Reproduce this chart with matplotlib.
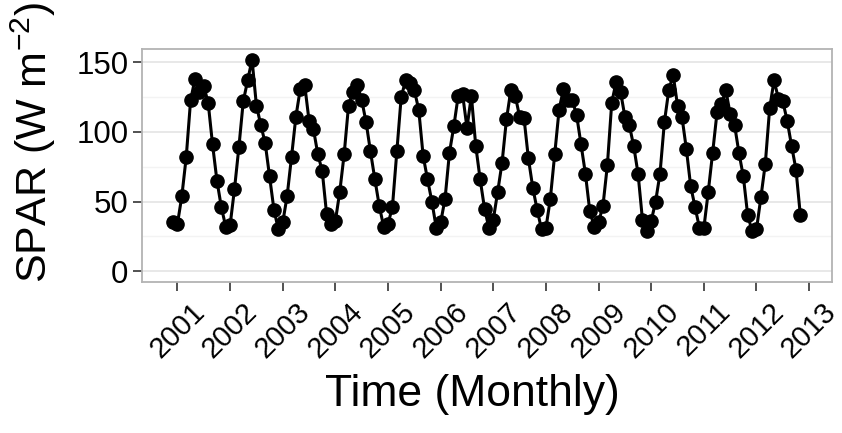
import numpy as np
import matplotlib
matplotlib.use("Agg")
import matplotlib.pyplot as plt
from matplotlib.ticker import MultipleLocator

plt.rcParams['font.family'] = ['Liberation Sans', 'DejaVu Sans']
plt.rcParams['mathtext.default'] = 'regular'

# monthly SPAR, Dec 2000 .. Nov 2012 (W m^-2)
spar = [
    35, 34, 54, 82, 123, 138, 129, 133, 121, 91, 65, 46,
    32, 33, 59, 89, 122, 137, 152, 119, 105, 92, 68, 44,
    30, 35, 54, 82, 111, 131, 134, 108, 102, 84, 72, 41,
    34, 36, 57, 84, 119, 129, 134, 123, 107, 86, 66, 47,
    32, 34, 46, 86, 125, 137, 135, 130, 116, 83, 66, 50,
    31, 35, 52, 85, 104, 126, 127, 103, 126, 90, 66, 45,
    31, 37, 57, 78, 109, 130, 126, 111, 110, 81, 60, 44,
    30, 31, 52, 84, 116, 131, 123, 123, 112, 91, 70, 43,
    32, 35, 47, 76, 121, 136, 129, 111, 105, 90, 70, 37,
    29, 36, 50, 70, 107, 130, 141, 119, 111, 88, 61, 46,
    31, 31, 57, 85, 114, 120, 130, 113, 105, 85, 68, 40,
    29, 30, 53, 77, 117, 137, 124, 122, 108, 90, 73, 40,
]
start_year = 2000 + 11 / 12
years = list(range(2001, 2014))

t = start_year + np.arange(len(spar)) / 12

fig = plt.figure(figsize=(8.42, 4.33), dpi=100)
ax = fig.add_axes([0.1683, 0.3494, 0.8195, 0.5374])

ax.plot(t, spar, color='black', lw=2.2, marker='o', ms=9.5, zorder=3)

# ggplot-style 5% expansion, y range forced to include 0
xpad = 0.05 * (t[-1] - t[0])
ax.set_xlim(t[0] - xpad, t[-1] + xpad)
ymax = max(spar)
ax.set_ylim(-0.05 * ymax, ymax * 1.05)

ax.yaxis.set_major_locator(MultipleLocator(50))
ax.yaxis.set_minor_locator(MultipleLocator(25))
ax.set_xticks(years)
ax.set_xticklabels([str(y) for y in years], rotation=45, ha='center', va='top',
                   fontsize=21)

ax.grid(axis='y', which='major', color='#e6e6e6', lw=1.3)
ax.grid(axis='y', which='minor', color='#f3f3f3', lw=1.0)
ax.set_axisbelow(True)

for s in ax.spines.values():
    s.set_color('#b3b3b3')
    s.set_linewidth(1.3)

ax.tick_params(axis='both', which='major', length=6.5, width=1.2, color='#333333',
               labelcolor='black')
ax.tick_params(axis='y', labelsize=22.5, pad=3)
ax.tick_params(axis='x', pad=5)
ax.tick_params(axis='y', which='minor', length=0)

fig.text(0.040, 0.346, 'SPAR (W m$^{-2}$)', rotation=90, ha='center', va='bottom',
         fontsize=31, color='black')
fig.text(0.561, 0.042, 'Time (Monthly)', ha='center', va='bottom',
         fontsize=32, color='black')

fig.savefig('out.png', dpi=100)
